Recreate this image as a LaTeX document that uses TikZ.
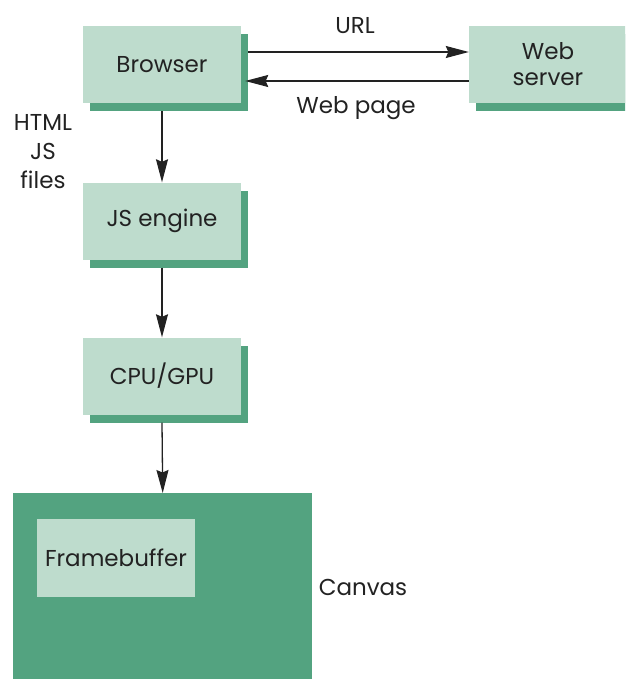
\documentclass[tikz,border=0pt]{standalone}
\usepackage{fontspec}
\setmainfont{Poppins}
\usetikzlibrary{arrows.meta,shadows}
\definecolor{lt}{HTML}{BEDCCD}
\definecolor{dk}{HTML}{53A380}
\definecolor{tx}{HTML}{222222}
\begin{document}
\begin{tikzpicture}[x=1pt,y=-1pt,
  font=\fontsize{23}{26}\selectfont, text=tx,
  box/.style={fill=lt, minimum width=158pt, minimum height=77pt, inner sep=0pt,
    general shadow={fill=dk, shadow xshift=7pt, shadow yshift=-8pt}},
  arr/.style={draw=tx, line width=1.3pt, -{Stealth[length=23pt,width=12pt,inset=2.5pt]}},
  lbl/.style={inner sep=0pt, align=center}]
\clip (0,0) rectangle (625,679);
\node[box] (browser) at (162,64.5) {Browser};
\node[box, align=center] (web) at (548,64.5) {Web\\server};
\node[box] (js) at (162,221) {JS engine};
\node[box] (cpu) at (162,376) {CPU/GPU};
\node[fill=dk, minimum width=299pt, minimum height=200pt, inner sep=0pt, anchor=north west] (canvas) at (13,493) {};
\node[fill=lt, minimum width=158pt, minimum height=78pt, inner sep=0pt] (fb) at (116,558) {Framebuffer};
\node[lbl] (url) at (355,26) {URL};
\node[lbl] (wp) at (356,108) {Web page};
\node[lbl, font=\fontsize{23}{29}\selectfont] (files) at (43,152) {HTML\\JS\\files};
\node[lbl] (cv) at (363,587) {Canvas};
\draw[arr] ([xshift=7pt,yshift=12.5pt]browser.east) -- ([yshift=12.5pt]web.west);
\draw[arr] ([yshift=-16.5pt]web.west) -- ([xshift=4pt,yshift=-16.5pt]browser.east);
\draw[arr] ([yshift=-8pt]browser.south) -- (js.north);
\draw[arr] ([yshift=-8pt]js.south) -- (cpu.north);
\draw[arr] ([yshift=-8pt]cpu.south) -- (canvas.north);
\end{tikzpicture}
\end{document}
